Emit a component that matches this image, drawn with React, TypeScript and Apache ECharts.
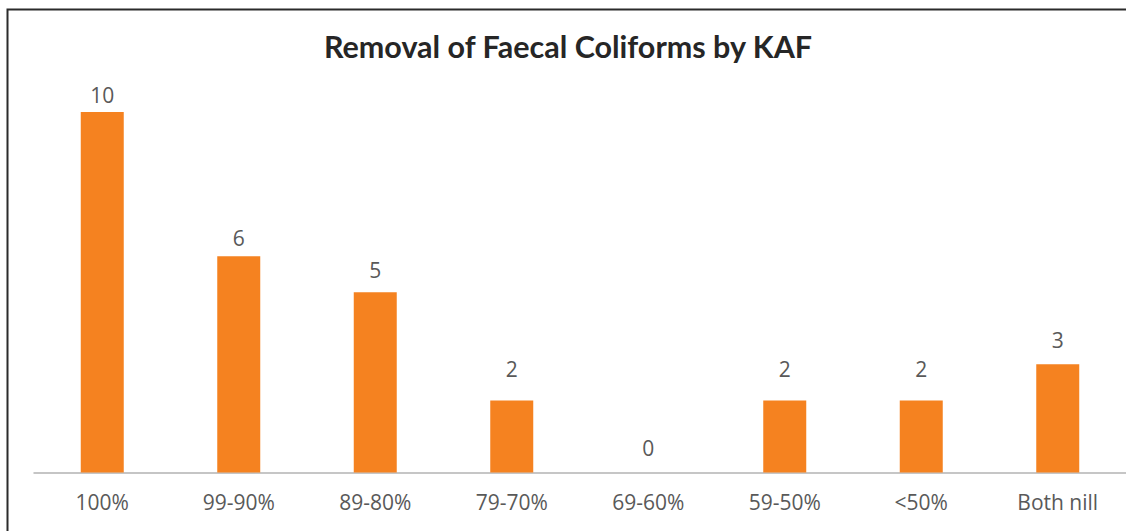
import React, { useEffect, useRef } from "react";
import * as echarts from "echarts";

const categories = ["100%", "99-90%", "89-80%", "79-70%", "69-60%", "59-50%", "<50%", "Both nill"];
const values = [10, 6, 5, 2, 0, 2, 2, 3];
const titleText = "Removal of Faecal Coliforms by KAF";

export default function App() {
  const ref = useRef<HTMLDivElement>(null);
  useEffect(() => {
    if (!ref.current) return;
    const chart = echarts.init(ref.current, undefined, { renderer: "svg" });
    // label offsets above each bar (style only), as placed in the original
    const labelDistances = [7, 8, 12, 21, 14, 21, 21, 14];
    const seriesData = values.map((v, i) => ({
      value: v,
      label: { distance: labelDistances[i] },
    }));
    chart.setOption({
      animation: false,
      backgroundColor: "#ffffff",
      grid: { left: 34, right: -3.5, top: 112, bottom: 58.5 },
      xAxis: {
        type: "category",
        data: categories,
        axisTick: { show: false },
        axisLine: { lineStyle: { color: "#b3b3b3", width: 1.5 } },
        axisLabel: {
          color: "#595959",
          fontSize: 21,
          fontFamily: "Open Sans",
          margin: 19,
        },
      },
      yAxis: {
        type: "value",
        min: 0,
        max: 10,
        show: false,
        splitLine: { show: false },
      },
      series: [
        {
          type: "bar",
          data: seriesData,
          barWidth: 43,
          itemStyle: { color: "#F58220" },
          label: {
            show: true,
            position: "top",
            distance: 7,
            color: "#595959",
            fontSize: 21,
            fontFamily: "Open Sans",
          },
        },
      ],
      graphic: [
        {
          type: "rect",
          shape: { x: 7.5, y: 9.5, width: 1300, height: 700 },
          style: { fill: "none", stroke: "#2b2b2b", lineWidth: 2 },
          silent: true,
        },
        {
          type: "text",
          x: 568,
          y: 46,
          style: {
            text: titleText,
            fontFamily: "Lato",
            fontWeight: "bold",
            fontSize: 30.5,
            fill: "#262626",
            textAlign: "center",
            textVerticalAlign: "middle",
          },
        },
      ],
    });
    return () => chart.dispose();
  }, []);
  return (
    <div
      ref={ref}
      style={{ position: "fixed", left: 0, top: 0, width: 1126, height: 531 }}
    />
  );
}
